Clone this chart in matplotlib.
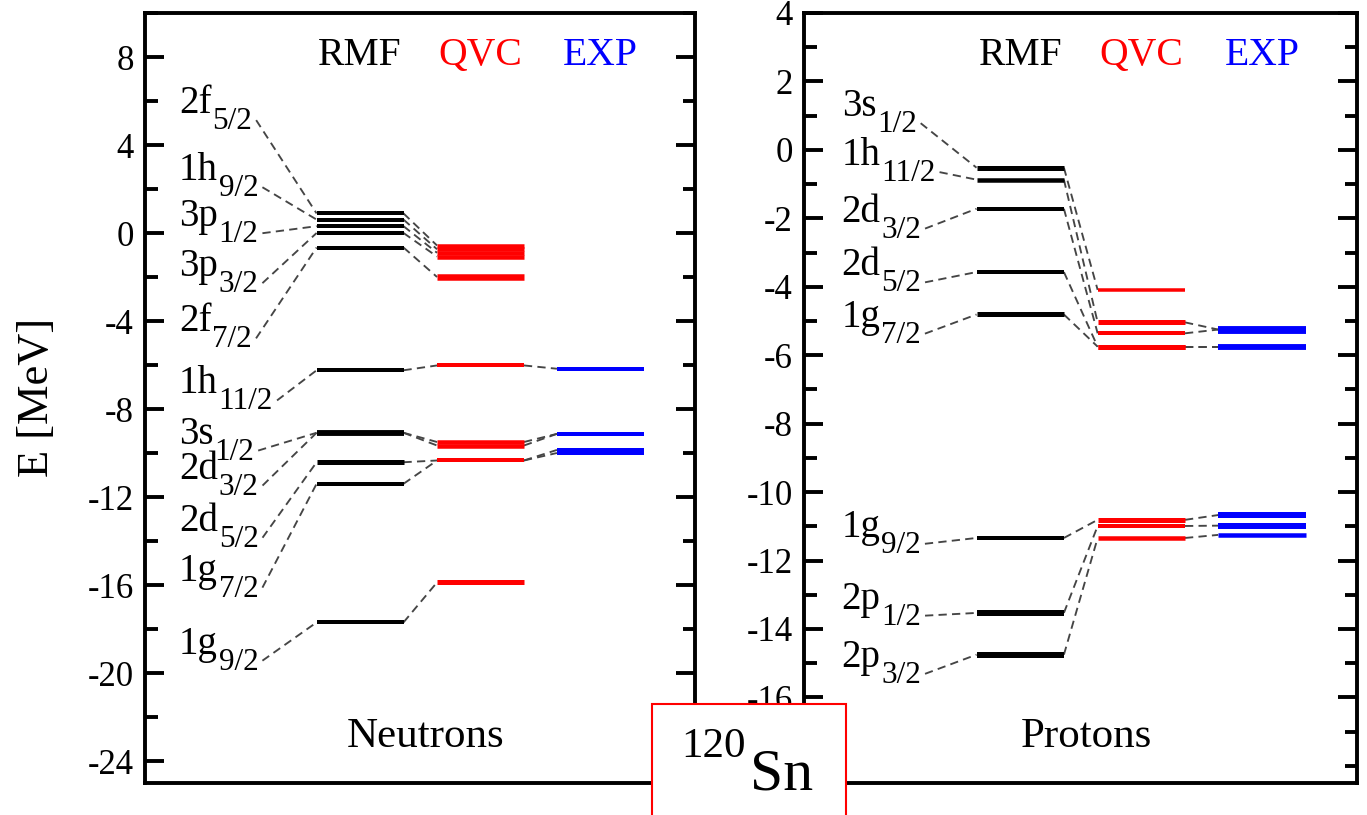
import numpy as np
import matplotlib
matplotlib.use("Agg")
import matplotlib.pyplot as plt
from matplotlib.patches import Rectangle
from matplotlib.ticker import MultipleLocator
from matplotlib.transforms import ScaledTranslation

plt.rcParams.update({
    "font.family": ["Liberation Serif", "DejaVu Serif"],
    "mathtext.fontset": "custom",
    "mathtext.rm": "Liberation Serif",
    "axes.unicode_minus": False,
})

# ------------------------------------------------------------------ #
# single-particle energies [MeV] for 120Sn (None = no level shown)
# ------------------------------------------------------------------ #
n_orbits = ["2f", "1h", "3p", "3p", "2f", "1h", "3s", "2d", "2d", "1g", "1g"]
n_j = ["5/2", "9/2", "1/2", "3/2", "7/2", "11/2", "1/2", "3/2", "5/2", "7/2", "9/2"]
n_rmf = [0.89, 0.61, 0.31, 0.0, -0.66, -6.24, -9.08, -9.08, -10.42, -11.40, -17.70]
n_qvc = [-0.57, -0.74, -0.90, -1.07, -2.0, -6.02, -9.50, -9.66, -10.34, -10.34, -15.88]
n_exp = [None, None, None, None, None, -6.17, -9.13, -9.13, -9.86, -10.0, None]

p_orbits = ["3s", "1h", "2d", "2d", "1g", "1g", "2p", "2p"]
p_j = ["1/2", "11/2", "3/2", "5/2", "7/2", "9/2", "1/2", "3/2"]
p_rmf = [-0.52, -0.87, -1.72, -3.57, -4.81, -11.34, -13.53, -14.75]
p_qvc = [-4.09, -5.04, -5.36, -5.75, -5.75, -10.81, -10.99, -11.34]
p_exp = [None, -5.25, -5.25, -5.75, -5.75, -10.67, -10.98, -11.25]

methods = ["RMF", "QVC", "EXP"]

# ---- styles / layout (kept apart from the data) ---- #
colors = ["black", "#ff0000", "#0000ff"]
col_x = [3.12, 5.31, 7.49]
col_w = 1.58
# level line thickness in pixels, per column
n_lw = [[4, 4, 4, 4, 4, 4, 5.5, 5.5, 5, 4, 4],
        [4.5, 4.5, 4.5, 4.5, 6.5, 4, 4.5, 4.5, 4, 4, 5],
        [0, 0, 0, 0, 0, 4, 4, 4, 4, 4, 0]]
p_lw = [[5, 4.5, 4, 4, 5, 4, 6, 6],
        [3.5, 5, 4, 5, 5, 5, 4, 4.5],
        [0, 7.5, 7.5, 5.5, 5.5, 6, 6, 4.5]]
# where the dashed line leaves each orbit label
n_label_y = [5.13, 2.08, -0.01, -2.28, -4.79, -7.61, -9.89, -11.48, -13.85, -16.12, -19.44]
p_label_y = [0.78, -0.65, -2.30, -3.87, -5.37, -11.51, -13.61, -15.31]

W, H, DPI = 1367, 815, 100
dash = dict(color="0.27", lw=1.35, dashes=(4.4, 2.8), zorder=2)


def draw_panel(ax, orbits, js, rmf, qvc, exp, lws, label_y, x_label, title):
    cols = [rmf, qvc, exp]
    for k, vals in enumerate(cols):
        for v, w in zip(vals, lws[k]):
            if v is None:
                continue
            ax.plot([col_x[k], col_x[k] + col_w], [v, v], color=colors[k],
                    lw=w * 0.72, solid_capstyle="butt", zorder=3)
    for i in range(len(rmf)):
        for k in range(2):
            a, b = cols[k][i], cols[k + 1][i]
            if a is None or b is None:
                continue
            ax.plot([col_x[k] + col_w, col_x[k + 1]], [a, b], **dash)

    off = ScaledTranslation(0, 7.0 / DPI, ax.figure.dpi_scale_trans)
    subs = []
    for orb, j, y in zip(orbits, js, label_y):
        t = ax.text(x_label, y, orb, transform=ax.transData + off, fontsize=28,
                    ha="left", va="baseline")
        s = ax.annotate(j, xy=(1, 0), xycoords=t, xytext=(0.5, -5),
                        textcoords="offset points", fontsize=22.5,
                        ha="left", va="baseline")
        subs.append(s)

    xt = ax.get_xaxis_transform()
    for k, m in enumerate(methods):
        ax.text(col_x[k] + col_w / 2, 0.933, m, transform=xt, color=colors[k],
                fontsize=28.5, ha="center", va="baseline")
    ax.text(5.1, 0.047, title, transform=xt, fontsize=31, ha="center", va="baseline")

    ax.set_xlim(0, 10)
    ax.set_xticks([])
    for sp in ax.spines.values():
        sp.set_linewidth(2.8)
    ax.tick_params(axis="y", which="both", direction="in", left=True, right=True,
                   labelleft=True, labelright=False, width=2.8, labelsize=25, pad=8)
    ax.tick_params(axis="y", which="major", length=13.5)
    ax.tick_params(axis="y", which="minor", length=9)
    return subs


fig = plt.figure(figsize=(W / DPI, H / DPI), dpi=DPI)
axn = fig.add_axes([145 / W, 32 / H, 550 / W, 770 / H])
axp = fig.add_axes([804 / W, 32 / H, 553 / W, 770 / H])

subs_n = draw_panel(axn, n_orbits, n_j, n_rmf, n_qvc, n_exp, n_lw, n_label_y, 0.62, "Neutrons")
axn.set_ylim(-25, 10)
axn.set_yticks(np.arange(-24, 9, 4))
axn.yaxis.set_minor_locator(MultipleLocator(2))

subs_p = draw_panel(axp, p_orbits, p_j, p_rmf, p_qvc, p_exp, p_lw, p_label_y, 0.68, "Protons")
axp.set_ylim(-18.5, 4)
axp.set_yticks(np.arange(-16, 5, 2))
axp.yaxis.set_minor_locator(MultipleLocator(1))

# dashed lines from the end of each label to the RMF level
fig.canvas.draw()
for ax, subs, ly, rmf in [(axn, subs_n, n_label_y, n_rmf), (axp, subs_p, p_label_y, p_rmf)]:
    inv = ax.transData.inverted()
    for s, y, e in zip(subs, ly, rmf):
        bb = s.get_window_extent()
        x0 = inv.transform((bb.x1 + 4, 0))[0]
        ax.plot([x0, col_x[0]], [y, e], **dash)

fig.text(37.5 / W, (H - 397) / H, "E [MeV]", rotation=90, fontsize=32,
         ha="center", va="center")

# nucleus box
box = Rectangle((652 / W, -0.05), 194 / W, (H - 704) / H + 0.05,
                transform=fig.transFigure, facecolor="white", edgecolor="#ff0000",
                lw=1.5, zorder=10)
fig.add_artist(box)
fig.text(746 / W, (H - 757) / H, "120", fontsize=31, ha="right", va="baseline", zorder=11)
fig.text(750 / W, (H - 790) / H, "Sn", fontsize=43, ha="left", va="baseline", zorder=11)

fig.savefig("out.png", dpi=DPI)
